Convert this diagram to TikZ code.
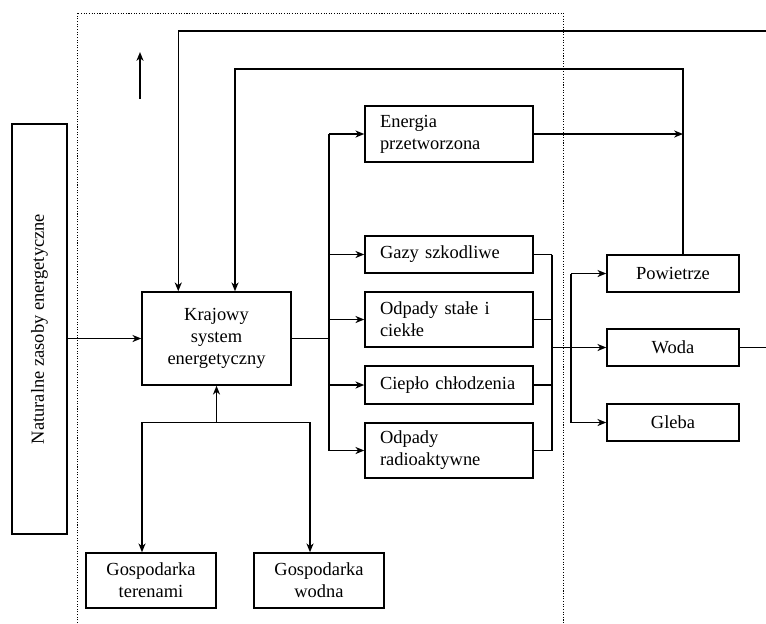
\documentclass[tikz,border=0pt]{standalone}
\usepackage{fontspec}
\setmainfont{Liberation Serif}
\usetikzlibrary{arrows.meta}

\begin{document}
\begin{tikzpicture}[x=0.02cm, y=-0.02cm, line width=0.85pt,
	every node/.style={font=\fontsize{10.5}{12.5}\selectfont},
	box/.style={draw, align=center, inner sep=0pt},
	lbox/.style={draw, align=left, text width=2.76cm, inner xsep=0.3cm, inner ysep=0pt},
	arr/.style={-{Stealth[length=5pt,width=4pt,inset=1.5pt]}}]
	\useasboundingbox (0,0) rectangle (766,623);
	\draw[line width=0.5pt, dash pattern=on 0.6pt off 0.9pt] (77,623) -- (77,13) -- (563,13) -- (563,623);

	\node[draw, rotate=90, minimum width=8.2cm, minimum height=1.1cm] (nat) at (39.5,329) {Naturalne zasoby energetyczne};
	\node[box, minimum width=2.98cm, minimum height=1.86cm] (kse) at (216.5,338.5) {Krajowy\\system\\energetyczny};
	\node[lbox, minimum height=1.12cm] (en) at (449,134) {Energia\\przetworzona};
	\node[lbox, minimum height=0.74cm] (gaz) at (449,254.5) {Gazy szkodliwe};
	\node[lbox, minimum height=1.1cm] (ods) at (449,319.5) {Odpady stałe i\\ciekłe};
	\node[lbox, minimum height=0.76cm] (cie) at (449,385) {Ciepło chłodzenia};
	\node[lbox, minimum height=1.1cm] (odr) at (449,450.5) {Odpady\\radioaktywne};
	\node[box, minimum width=2.64cm, minimum height=0.74cm] (pow) at (673,273.5) {Powietrze};
	\node[box, minimum width=2.64cm, minimum height=0.74cm] (woda) at (673,347.5) {Woda};
	\node[box, minimum width=2.64cm, minimum height=0.74cm] (gleba) at (673,422.5) {Gleba};
	\node[box, minimum width=2.6cm, minimum height=1.1cm] (gt) at (151,580.5) {Gospodarka\\terenami};
	\node[box, minimum width=2.6cm, minimum height=1.1cm] (gw) at (319,580.5) {Gospodarka\\wodna};

	\coordinate (topR) at (766,31);
	\coordinate (bendB) at (235,69);
	\coordinate (pn) at ([xshift=0.2cm]pow.north);
	\coordinate (tr) at (329,0);
	\coordinate (col) at (552,0);
	\coordinate (dis) at (571,0);
	\coordinate (wodaR) at (766,347.5);
	\coordinate (hub) at ([yshift=-0.74cm]kse.south);
	\coordinate (upA) at (140,99);
	\coordinate (upB) at (140,52);

	\draw[arr] (upA) -- (upB);
	\draw[arr] (topR) -| ([xshift=0.74cm]kse.north west);
	\draw[arr] (pn) |- (bendB) -- (bendB |- kse.north);
	\draw[arr] (en.east) -- (en.east -| pn);
	\draw[arr] (nat.south |- kse.west) -- (kse.west);

	\draw (kse.east) -- (kse.east -| tr);
	\draw (tr |- en.west) -- (tr |- odr.west);
	\foreach \b in {en,gaz,ods,cie,odr} {\draw[arr] (tr |- \b.west) -- (\b.west);}

	\foreach \b in {gaz,ods,cie,odr} {\draw (\b.east) -- (\b.east -| col);}
	\draw (col |- gaz.east) -- (col |- odr.east);
	\draw[arr] (col |- woda.west) -- (woda.west);

	\draw (dis |- pow.west) -- (dis |- gleba.west);
	\foreach \b in {pow,gleba} {\draw[arr] (dis |- \b.west) -- (\b.west);}
	\draw (woda.east) -- (wodaR);

	\draw[arr] (hub) -- (kse.south);
	\draw[arr] (hub) -| ([xshift=-0.18cm]gt.north);
	\draw[arr] (hub) -| ([xshift=-0.18cm]gw.north);
\end{tikzpicture}
\end{document}
